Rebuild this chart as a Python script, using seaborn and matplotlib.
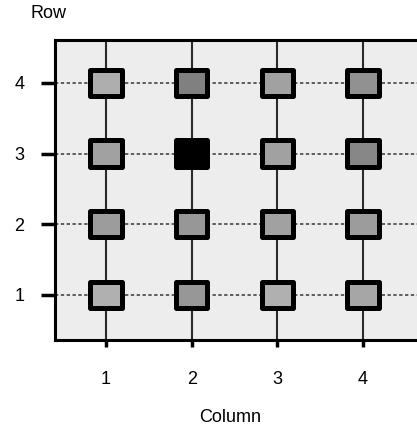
import numpy as np
import pandas as pd
import matplotlib
matplotlib.use("Agg")
import matplotlib.pyplot as plt
from matplotlib.path import Path
from matplotlib.markers import MarkerStyle
import seaborn as sns

# === Grid cells (column, row) and their gray level (0 = black, 1 = white) ===
columns = [1, 2, 3, 4, 1, 2, 3, 4, 1, 2, 3, 4, 1, 2, 3, 4]
rows = [4, 4, 4, 4, 3, 3, 3, 3, 2, 2, 2, 2, 1, 1, 1, 1]
gray_level = [0.68, 0.50, 0.63, 0.57,
              0.63, 0.00, 0.63, 0.53,
              0.61, 0.59, 0.63, 0.61,
              0.69, 0.59, 0.69, 0.65]
tick_values = [1, 2, 3, 4]
tick_labels = ["1", "2", "3", "4"]

df = pd.DataFrame({"Column": columns, "Row": rows, "gray": gray_level})

sns.set_theme(style="white")
plt.rcParams["font.family"] = ["Liberation Sans", "DejaVu Sans"]
plt.rcParams["text.color"] = "black"
plt.rcParams["axes.labelcolor"] = "black"
plt.rcParams["xtick.color"] = "black"
plt.rcParams["ytick.color"] = "black"

fig = plt.figure(figsize=(4.17, 4.28), dpi=100)
ax = fig.add_axes([55 / 417, 88 / 428, 365 / 417, 300 / 428])
ax.set_facecolor("#ededed")

# slightly wide rectangle marker
rect = Path([(-0.5, -0.42), (0.5, -0.42), (0.5, 0.42), (-0.5, 0.42), (-0.5, -0.42)],
            [Path.MOVETO, Path.LINETO, Path.LINETO, Path.LINETO, Path.CLOSEPOLY])

sns.scatterplot(data=df, x="Column", y="Row", hue="gray", palette="gray",
                hue_norm=(0, 1), marker=MarkerStyle(rect), s=510,
                edgecolor="black", linewidth=3.6, legend=False, zorder=3, ax=ax)

ax.set_xlim(0.405, 4.665)
ax.set_ylim(0.363, 4.608)
ax.set_xticks(tick_values, tick_labels)
ax.set_yticks(tick_values, tick_labels)

# grid: solid-ish verticals, dotted horizontals
for v in tick_values:
    ax.axvline(v, color="#2a2a2a", lw=1.5, zorder=1)
    ax.axhline(v, color="#444444", lw=1.2, ls=(0, (2, 1.5)), zorder=1)

for side in ["left", "top", "bottom"]:
    ax.spines[side].set_linewidth(2.2)
    ax.spines[side].set_color("black")
ax.spines["right"].set_visible(False)

ax.tick_params(axis="y", length=10, width=2.5, pad=12, labelsize=13,
               color="black", labelcolor="black", left=True)
ax.tick_params(axis="x", length=5, width=2.5, pad=17, labelsize=13,
               color="black", labelcolor="black", bottom=True)

ax.set_xlabel("Column", fontsize=13, color="black")
ax.xaxis.set_label_coords((230 - 55) / 365, -(417 - 340) / 300)
ax.xaxis.label.set_va("center")
ax.set_ylabel("Row", fontsize=13, rotation=0, ha="center", va="center", color="black")
ax.yaxis.set_label_coords((48 - 55) / 365, (340 - 14) / 300)

fig.savefig("out.png", dpi=100)
